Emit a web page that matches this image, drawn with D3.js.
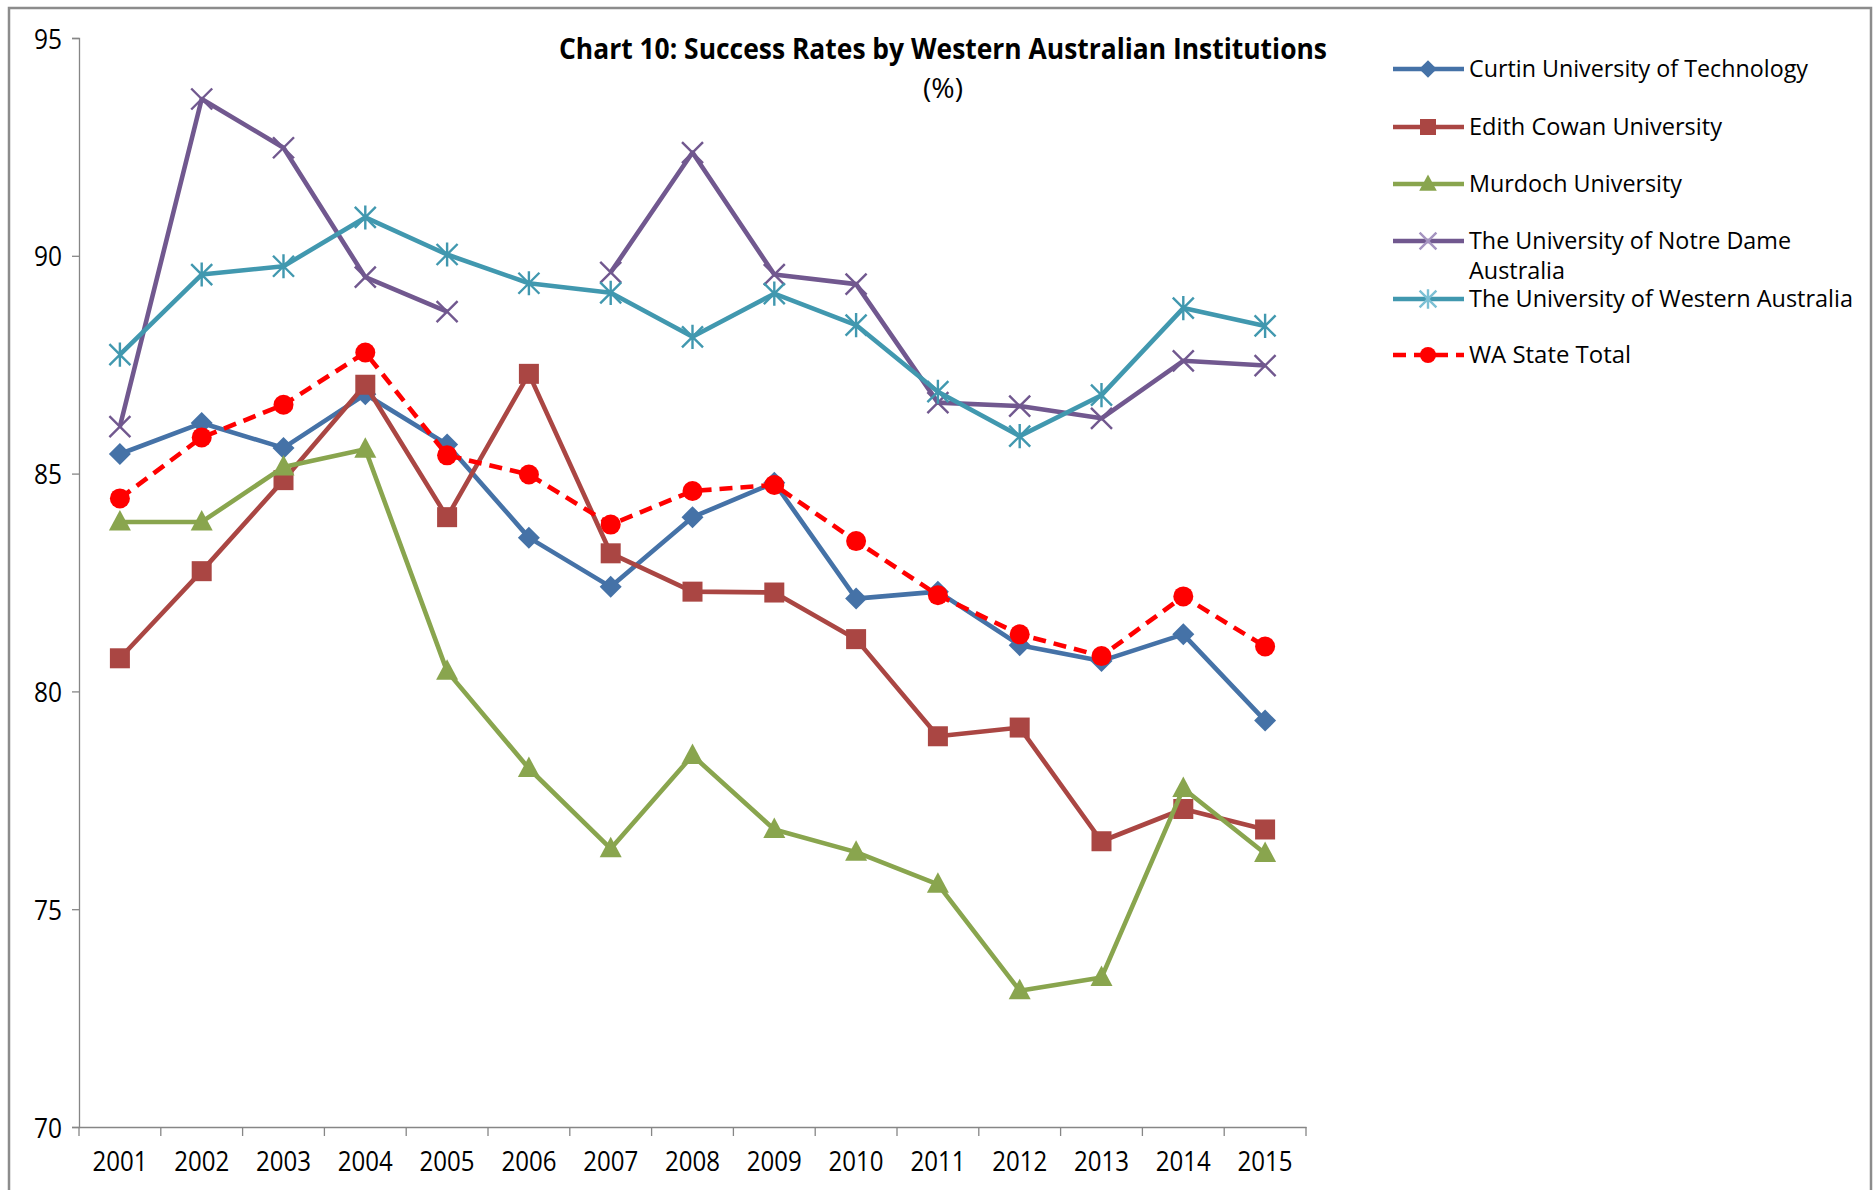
<!DOCTYPE html>
<html>
<head>
<meta charset="utf-8">
<script src="https://cdn.jsdelivr.net/npm/d3@7/dist/d3.min.js"></script>
<style>
  body { margin: 0; background: #fff; }
  text { font-family: 'Open Sans', 'Noto Sans', sans-serif; fill: #000; }
</style>
</head>
<body>
<div id="chart"></div>
<script>
/* Data */
const years = ['2001', '2002', '2003', '2004', '2005', '2006', '2007', '2008',
  '2009', '2010', '2011', '2012', '2013', '2014', '2015'];

const curtin = [85.45, 86.16, 85.59, 86.82, 85.67, 83.53, 82.4, 84.0, 84.79,
  82.13, 82.29, 81.06, 80.7, 81.31, 79.33];
const edithCowan = [80.76, 82.76, 84.85, 87.04, 84.0, 87.29, 83.17, 82.29,
  82.27, 81.2, 78.97, 79.17, 76.56, 77.3, 76.83];
const murdoch = [83.89, 83.89, 85.15, 85.56, 80.46, 78.23, 76.39, 78.53, 76.83,
  76.31, 75.57, 73.13, 73.43, 77.77, 76.28];
const notreDame = [86.08, 93.6, 92.48, 89.51, 88.72, null, 89.62, 92.37, 89.57,
  89.35, 86.63, 86.55, 86.27, 87.59, 87.48];
const uwa = [87.73, 89.57, 89.76, 90.88, 90.03, 89.37, 89.15, 88.14, 89.13,
  88.41, 86.88, 85.86, 86.8, 88.8, 88.39];
const waTotal = [84.43, 85.83, 86.58, 87.78, 85.42, 84.98, 83.83, 84.6, 84.74,
  83.45, 82.21, 81.31, 80.81, 82.18, 81.03];

const yTicks = [70, 75, 80, 85, 90, 95];

const seriesNames = [
  'Curtin University of Technology',
  'Edith Cowan University',
  'Murdoch University',
  'The University of Notre Dame Australia',
  'The University of Western Australia',
  'WA State Total',
];
const seriesValues = [curtin, edithCowan, murdoch, notreDame, uwa, waTotal];

// Styles per series
const styles = [
  { color: '#4572A7', marker: 'diamond', legendMarker: '#4572A7' },
  { color: '#AA4643', marker: 'square', legendMarker: '#AA4643' },
  { color: '#89A54E', marker: 'triangle', legendMarker: '#89A54E' },
  { color: '#71588F', marker: 'cross', legendMarker: '#A594C0' },
  { color: '#4198AF', marker: 'star', legendMarker: '#7CC0D4' },
  { color: '#FF0000', marker: 'circle', legendMarker: '#FF0000', dash: '13,8' },
];

/* Dimensions */
const width = 1874;
const height = 1190;
const plot = { left: 79, right: 1306, top: 38, bottom: 1127 };

const svg = d3
  .select('#chart')
  .append('svg')
  .attr('width', width)
  .attr('height', height);

// Outer frame (bottom edge runs off the picture)
svg
  .append('rect')
  .attr('x', 9)
  .attr('y', 8)
  .attr('width', 1862)
  .attr('height', 1220)
  .attr('fill', 'none')
  .attr('stroke', '#8c8c8c')
  .attr('stroke-width', 2.5);

// Scales
const x = d3.scaleBand().domain(years).range([plot.left, plot.right]);
const xc = (i) => x(years[i]) + x.bandwidth() / 2;
const y = d3.scaleLinear().domain([70, 95]).range([plot.bottom, plot.top]);

/* Axes */
const axisColor = '#868686';

const yAxis = svg
  .append('g')
  .attr('transform', `translate(${plot.left},0)`)
  .call(d3.axisLeft(y).tickValues(yTicks).tickSize(7).tickPadding(10));
yAxis.select('.domain').attr('stroke', axisColor).attr('stroke-width', 1.3);
yAxis.selectAll('.tick line').attr('stroke', axisColor).attr('stroke-width', 1.3);
yAxis
  .selectAll('.tick text')
  .attr('font-size', 28)
  .attr('textLength', 28)
  .attr('lengthAdjust', 'spacingAndGlyphs')
  .attr('dy', '0.36em');

const xAxis = svg
  .append('g')
  .attr('transform', `translate(0,${plot.bottom})`)
  .call(d3.axisBottom(x).tickSize(0).tickPadding(19));
xAxis.select('.domain').attr('stroke', axisColor).attr('stroke-width', 1.3);
xAxis
  .selectAll('.tick text')
  .attr('font-size', 28)
  .attr('textLength', 55)
  .attr('lengthAdjust', 'spacingAndGlyphs')
  .attr('dy', '0.9em');

// Excel style ticks between categories
const bounds = years.map((d) => x(d)).concat([plot.right]);
xAxis
  .selectAll('.cat-tick')
  .data(bounds)
  .join('line')
  .attr('class', 'cat-tick')
  .attr('x1', (d) => d)
  .attr('x2', (d) => d)
  .attr('y1', 0)
  .attr('y2', 9)
  .attr('stroke', axisColor)
  .attr('stroke-width', 1.3);

/* Markers */
const drawMarker = (g, type, color, cx, cy, s) => {
  if (type === 'diamond') {
    g.append('path')
      .attr('d', `M${cx},${cy - 11 * s}L${cx + 11 * s},${cy}L${cx},${cy + 11 * s}L${cx - 11 * s},${cy}Z`)
      .attr('fill', color);
  } else if (type === 'square') {
    g.append('rect')
      .attr('x', cx - 10 * s)
      .attr('y', cy - 10 * s)
      .attr('width', 20 * s)
      .attr('height', 20 * s)
      .attr('fill', color);
  } else if (type === 'triangle') {
    g.append('path')
      .attr('d', `M${cx},${cy - 12 * s}L${cx + 11 * s},${cy + 8.5 * s}L${cx - 11 * s},${cy + 8.5 * s}Z`)
      .attr('fill', color);
  } else if (type === 'circle') {
    g.append('circle')
      .attr('cx', cx)
      .attr('cy', cy)
      .attr('r', 10 * s)
      .attr('fill', color);
  } else if (type === 'cross') {
    const r = 10.5 * s;
    g.append('path')
      .attr('d', `M${cx - r},${cy - r}L${cx + r},${cy + r}M${cx - r},${cy + r}L${cx + r},${cy - r}`)
      .attr('stroke', color)
      .attr('stroke-width', 2.4)
      .attr('fill', 'none');
  } else if (type === 'star') {
    const r = 10.5 * s;
    g.append('path')
      .attr('d', `M${cx - r},${cy - r}L${cx + r},${cy + r}M${cx - r},${cy + r}L${cx + r},${cy - r}M${cx},${cy - r * 1.15}L${cx},${cy + r * 1.15}`)
      .attr('stroke', color)
      .attr('stroke-width', 2.4)
      .attr('fill', 'none');
  }
};

/* Lines */
const line = d3
  .line()
  .defined((d) => d != null)
  .x((d, i) => xc(i))
  .y((d) => y(d));

seriesValues.forEach((values, k) => {
  const st = styles[k];
  const g = svg.append('g');

  g.append('path')
    .datum(values)
    .attr('d', line)
    .attr('fill', 'none')
    .attr('stroke', st.color)
    .attr('stroke-width', 4.6)
    .attr('stroke-linejoin', 'round')
    .attr('stroke-dasharray', st.dash || null);

  values.forEach((v, i) => {
    if (v == null) return;
    drawMarker(g, st.marker, st.color, xc(i), y(v), 1);
  });
});

/* Title */
svg
  .append('text')
  .attr('x', 943)
  .attr('y', 59)
  .attr('text-anchor', 'middle')
  .attr('font-size', 29)
  .attr('font-weight', 'bold')
  .attr('textLength', 768)
  .attr('lengthAdjust', 'spacingAndGlyphs')
  .text('Chart 10: Success Rates by Western Australian Institutions');

svg
  .append('text')
  .attr('x', 943)
  .attr('y', 98)
  .attr('text-anchor', 'middle')
  .attr('font-size', 28)
  .attr('textLength', 40)
  .attr('lengthAdjust', 'spacingAndGlyphs')
  .text('(%)');

/* Legend */
const legendRows = [69, 127, 184, 241, 299, 355];
const legendWidths = [339, 253, 213, 322, 384, 162];
const legend = svg.append('g');

seriesNames.forEach((name, k) => {
  const st = styles[k];
  const ly = legendRows[k];
  const g = legend.append('g');

  g.append('line')
    .attr('x1', 1393)
    .attr('x2', 1464)
    .attr('y1', ly)
    .attr('y2', ly)
    .attr('stroke', st.color)
    .attr('stroke-width', 4.6)
    .attr('stroke-dasharray', st.dash || null);

  drawMarker(g, st.marker, st.legendMarker, 1428, ly, 0.8);

  if (k === 3) {
    // wraps onto two lines
    g.append('text')
      .attr('x', 1469)
      .attr('y', ly + 8)
      .attr('font-size', 24)
      .attr('textLength', 322)
      .attr('lengthAdjust', 'spacingAndGlyphs')
      .text('The University of Notre Dame');
    g.append('text')
      .attr('x', 1469)
      .attr('y', ly + 38)
      .attr('font-size', 24)
      .attr('textLength', 96)
      .attr('lengthAdjust', 'spacingAndGlyphs')
      .text('Australia');
  } else {
    g.append('text')
      .attr('x', 1469)
      .attr('y', ly + 8)
      .attr('font-size', 24)
      .attr('textLength', legendWidths[k])
      .attr('lengthAdjust', 'spacingAndGlyphs')
      .text(name);
  }
});
</script>
</body>
</html>
